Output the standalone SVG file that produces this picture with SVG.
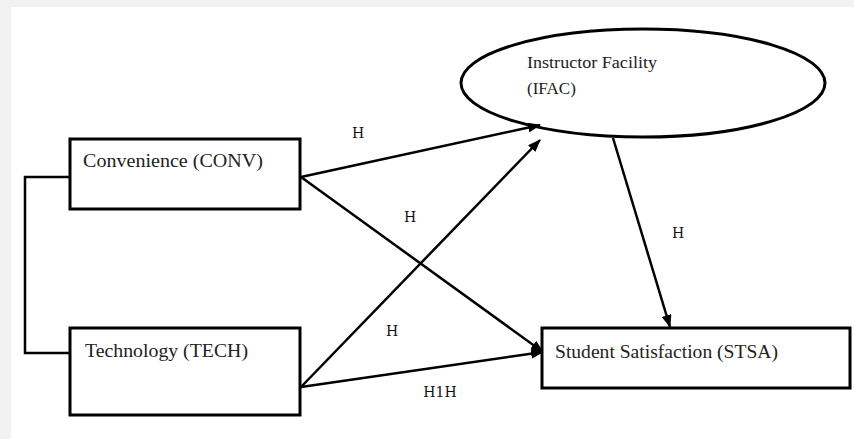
<svg xmlns="http://www.w3.org/2000/svg" width="854" height="439" viewBox="0 0 854 439">
<style>
.box{fill:#fff;stroke:#000;stroke-width:3}
.lbl{font-family:'Liberation Serif','Times New Roman',Tinos,'DejaVu Serif',serif;fill:#222}
.h{font-family:'DejaVu Serif','Liberation Serif',serif;font-size:14px;fill:#111;text-anchor:middle}
.con{stroke:#000;stroke-width:2.5;fill:none}
</style>
<defs>
<marker id="ah" markerUnits="userSpaceOnUse" markerWidth="13" markerHeight="10" refX="12" refY="5" orient="auto">
<path d="M0,0 L13,5 L0,10 z" fill="#000"/>
</marker>
</defs>
<rect x="0" y="0" width="854" height="439" fill="#f2f2f2"/>
<rect x="11" y="7" width="843" height="432" fill="#fff"/>
<g id="connectors">
<polyline class="con" points="70,177 25,177 25,353 70,353"/>
<line class="con" x1="301" y1="177" x2="540" y2="125" marker-end="url(#ah)"/>
<line class="con" x1="301" y1="177" x2="543" y2="352" marker-end="url(#ah)"/>
<line class="con" x1="301" y1="387" x2="540" y2="140" marker-end="url(#ah)"/>
<line class="con" x1="301" y1="387" x2="543" y2="352" marker-end="url(#ah)"/>
<line class="con" x1="613" y1="138" x2="670" y2="327" marker-end="url(#ah)"/>
<text class="h" x="358" y="138">H</text>
<text class="h" x="410" y="222">H</text>
<text class="h" x="392" y="336">H</text>
<text class="h" x="440" y="397">H1H</text>
<text class="h" x="678" y="238">H</text>
</g>
<g id="IFAC">
<ellipse cx="643" cy="83" rx="182" ry="54" fill="none" stroke="#000" stroke-width="3"/>
<text class="lbl" x="527" y="68" font-size="17" textLength="130" lengthAdjust="spacingAndGlyphs">Instructor Facility</text>
<text class="lbl" x="527" y="94" font-size="17">(IFAC)</text>
</g>
<g id="CONV">
<rect class="box" x="70" y="139" width="230" height="70"/>
<text class="lbl" x="83" y="167" font-size="19" textLength="180" lengthAdjust="spacingAndGlyphs">Convenience (CONV)</text>
</g>
<g id="TECH">
<rect class="box" x="70" y="328" width="230" height="87"/>
<text class="lbl" x="85" y="357" font-size="19" textLength="163" lengthAdjust="spacingAndGlyphs">Technology (TECH)</text>
</g>
<g id="STSA">
<rect class="box" x="542" y="328" width="308" height="60"/>
<text class="lbl" x="555" y="358" font-size="19" textLength="223" lengthAdjust="spacingAndGlyphs">Student Satisfaction (STSA)</text>
</g>
</svg>
